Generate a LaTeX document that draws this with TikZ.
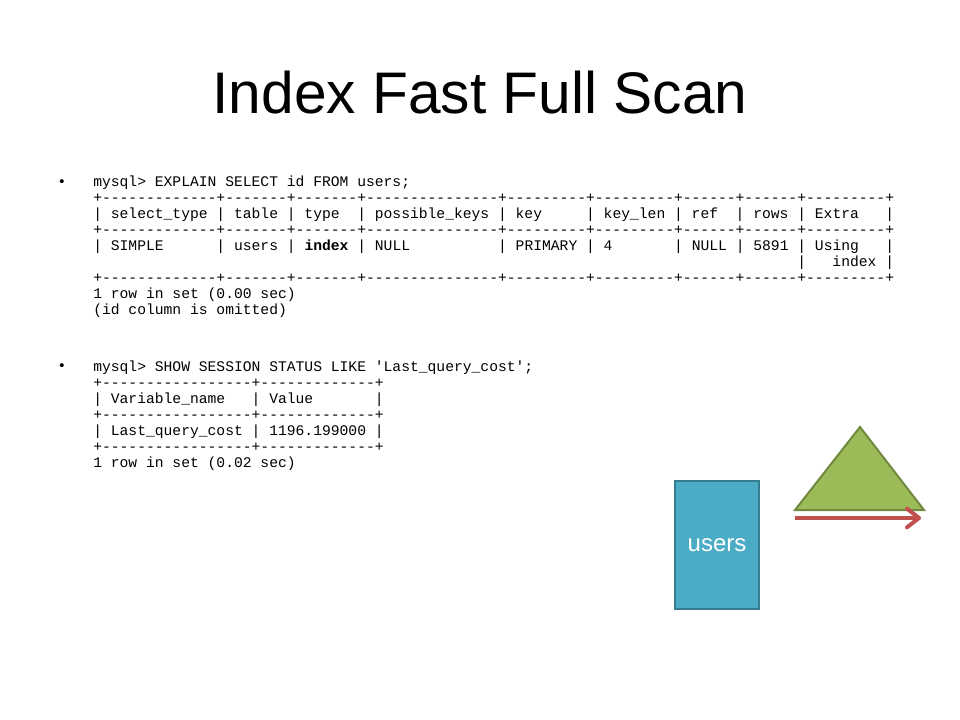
\documentclass[tikz,border=0pt]{standalone}
\usepackage{fontspec}
\setmainfont{Liberation Sans}
\setmonofont{Liberation Mono}
\usepackage{tikz}
\usetikzlibrary{arrows.meta}
\usepackage{xcolor}

\definecolor{azul}{HTML}{4BACC6}
\definecolor{azulborda}{HTML}{357D91}
\definecolor{verde}{HTML}{9BBB59}
\definecolor{verdeborda}{HTML}{71893F}
\definecolor{vermelho}{HTML}{C0504D}

\newcommand{\bordaA}{+-------------+-------+-------+---------------+---------+---------+------+------+---------+}
\newcommand{\bordaB}{+-----------------+-------------+}

\begin{document}
\begin{tikzpicture}[x=0.75pt,y=-0.75pt,
    linha/.style={anchor=base west, inner sep=0pt, font=\fontsize{11}{12}\selectfont\ttfamily},
    marca/.style={anchor=center, inner sep=0pt, font=\fontsize{11}{12}\selectfont}]
    \useasboundingbox[fill=white] (0,0) rectangle (960,720);
    % Titulo
    \node[anchor=base, inner sep=0pt, font=\fontsize{44}{48}\selectfont] (titulo) at (480,114) {Index Fast Full Scan};
    % EXPLAIN
    \node[marca] (b1) at (62,183) {\textbullet};
    \node[linha] (l1) at (93,187) {mysql> EXPLAIN SELECT id FROM users;};
    \node[linha] (l2) at (93,203) {\bordaA};
    \node[linha] (l3) at (93,219) {|~select\_type~|~table~|~type~~|~possible\_keys~|~key~~~~~|~key\_len~|~ref~~|~rows~|~Extra~~~|};
    \node[linha] (l4) at (93,235) {\bordaA};
    \node[linha] (l5) at (93,251) {|~SIMPLE~~~~~~|~users~|~\textbf{index}~|~NULL~~~~~~~~~~|~PRIMARY~|~4~~~~~~~|~NULL~|~5891~|~Using~~~|};
    \node[linha] (l6) at (797,267) {|~~~index~|};
    \node[linha] (l7) at (93,283) {\bordaA};
    \node[linha] (l8) at (93,299) {1 row in set (0.00 sec)};
    \node[linha] (l9) at (93,315) {(id column is omitted)};
    % SHOW STATUS
    \node[marca] (b2) at (62,367) {\textbullet};
    \node[linha] (m1) at (93,371) {mysql> SHOW SESSION STATUS LIKE 'Last\_query\_cost';};
    \node[linha] (m2) at (93,387) {\bordaB};
    \node[linha] (m3) at (93,403) {|~Variable\_name~~~|~Value~~~~~~~|};
    \node[linha] (m4) at (93,419) {\bordaB};
    \node[linha] (m5) at (93,435) {|~Last\_query\_cost~|~1196.199000~|};
    \node[linha] (m6) at (93,451) {\bordaB};
    \node[linha] (m7) at (93,467) {1 row in set (0.02 sec)};
    % Tabela e indice
    \node[draw=azulborda, fill=azul, line width=1.5pt, minimum width=63pt, minimum height=96pt,
          text=white, font=\fontsize{18}{20}\selectfont] (users) at (717,545) {users};
    \draw[fill=verde, draw=verdeborda, line width=1.5pt] (860,427) coordinate (topo)
        -- (924,510) coordinate (dir) -- (795,510) coordinate (esq) -- cycle;
    \coordinate (ini) at (795,518);
    \coordinate (fim) at (921,518);
    \draw[vermelho, line width=3pt, -{Straight Barb[length=9pt,width=14pt,round]}] (ini) -- (fim);
\end{tikzpicture}
\end{document}
